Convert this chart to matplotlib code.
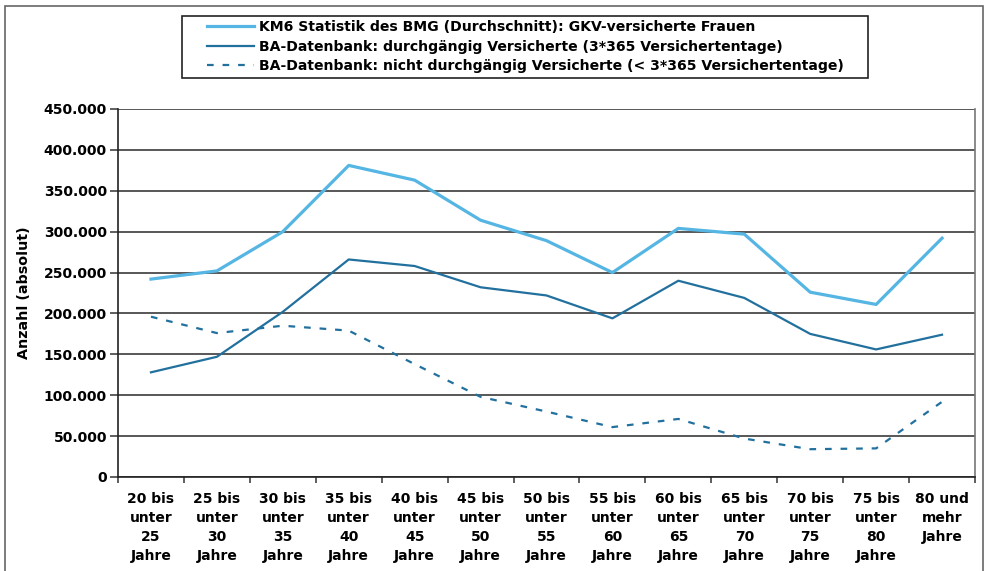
import matplotlib
matplotlib.use("Agg")
import matplotlib.pyplot as plt
from matplotlib.patches import Rectangle
from matplotlib.ticker import FixedLocator, NullFormatter

# age groups
categories = [
    "20 bis\nunter\n25\nJahre", "25 bis\nunter\n30\nJahre", "30 bis\nunter\n35\nJahre",
    "35 bis\nunter\n40\nJahre", "40 bis\nunter\n45\nJahre", "45 bis\nunter\n50\nJahre",
    "50 bis\nunter\n55\nJahre", "55 bis\nunter\n60\nJahre", "60 bis\nunter\n65\nJahre",
    "65 bis\nunter\n70\nJahre", "70 bis\nunter\n75\nJahre", "75 bis\nunter\n80\nJahre",
    "80 und\nmehr\nJahre",
]

km6 = [242000, 252000, 300000, 381000, 363000, 314000, 289000, 250000, 304000, 297000, 226000, 211000, 292000]
ba_durch = [128000, 147000, 202000, 266000, 258000, 232000, 222000, 194000, 240000, 219000, 175000, 156000, 174000]
ba_nicht = [196000, 176000, 185000, 179000, 138000, 98000, 80000, 61000, 71000, 47000, 34000, 35000, 92000]

labels = [
    "KM6 Statistik des BMG (Durchschnitt): GKV-versicherte Frauen",
    "BA-Datenbank: durchgängig Versicherte (3*365 Versichertentage)",
    "BA-Datenbank: nicht durchgängig Versicherte (< 3*365 Versichertentage)",
]

yticks = [0, 50000, 100000, 150000, 200000, 250000, 300000, 350000, 400000, 450000]

plt.rcParams['font.family'] = ['DejaVu Sans']
plt.rcParams['font.weight'] = 'bold'

W, H = 985, 571
fig = plt.figure(figsize=(W / 100, H / 100), dpi=100)
ax = fig.add_axes([118 / W, 1 - 477 / H, (975 - 118) / W, (477 - 109) / H])

# outer frame
fig.patches.append(Rectangle((5 / W, -0.05), 978 / W, 1 - 6 / H + 0.05, transform=fig.transFigure,
                             fill=False, edgecolor='#666666', linewidth=1.2))

x = list(range(len(categories)))
light = '#55b5e3'
dark = '#22709e'
ax.plot(x, km6, color=light, linewidth=2.3, label=labels[0])
ax.plot(x, ba_durch, color=dark, linewidth=1.6, label=labels[1])
ax.plot(x, ba_nicht, color=dark, linewidth=1.6, linestyle=(0, (3, 4)), label=labels[2])

ax.set_xlim(-0.5, len(categories) - 0.5)
ax.set_ylim(0, 450000)
ax.set_yticks(yticks)
ax.set_yticklabels([f"{v:,}".replace(",", ".") for v in yticks], fontsize=10, fontweight='bold')
ax.yaxis.grid(True, color='#2a2a2a', linewidth=1.1)
ax.set_axisbelow(True)

ax.xaxis.set_major_locator(FixedLocator([i - 0.5 for i in range(len(categories) + 1)]))
ax.xaxis.set_major_formatter(NullFormatter())
ax.set_xticks(x, minor=True)
ax.set_xticklabels(categories, minor=True, fontsize=10, fontweight='bold', linespacing=1.45, va='top')
ax.tick_params(axis='x', which='minor', length=0, pad=11)
ax.tick_params(axis='x', which='major', length=4, width=1.1, color='#333333', direction='out')
ax.tick_params(axis='y', length=6, width=1.1, color='#333333', pad=2)

ax.spines['top'].set_visible(False)
ax.spines['left'].set_color('#222222')
ax.spines['bottom'].set_color('#222222')
ax.spines['right'].set_color('#777777')
for s in ['left', 'bottom', 'right']:
    ax.spines[s].set_linewidth(1.2)

ax.set_ylabel("Anzahl (absolut)", fontsize=10.3, fontweight='bold', labelpad=9)

# legend box drawn separately so the padding can match
fig.patches.append(Rectangle((182 / W, 1 - 78 / H), (868 - 182) / W, 62 / H, transform=fig.transFigure,
                             fill=True, facecolor='white', edgecolor='#222222', linewidth=1.2, zorder=5))
leg = fig.legend(loc='upper left', bbox_to_anchor=(203 / W, 1 - 16 / H), borderaxespad=0,
                 prop={'size': 10.1, 'weight': 'bold'}, handlelength=3.3, handletextpad=0.4,
                 labelspacing=0.38, borderpad=0.3, frameon=False)
leg.set_zorder(6)

fig.savefig("out.png", dpi=100)
